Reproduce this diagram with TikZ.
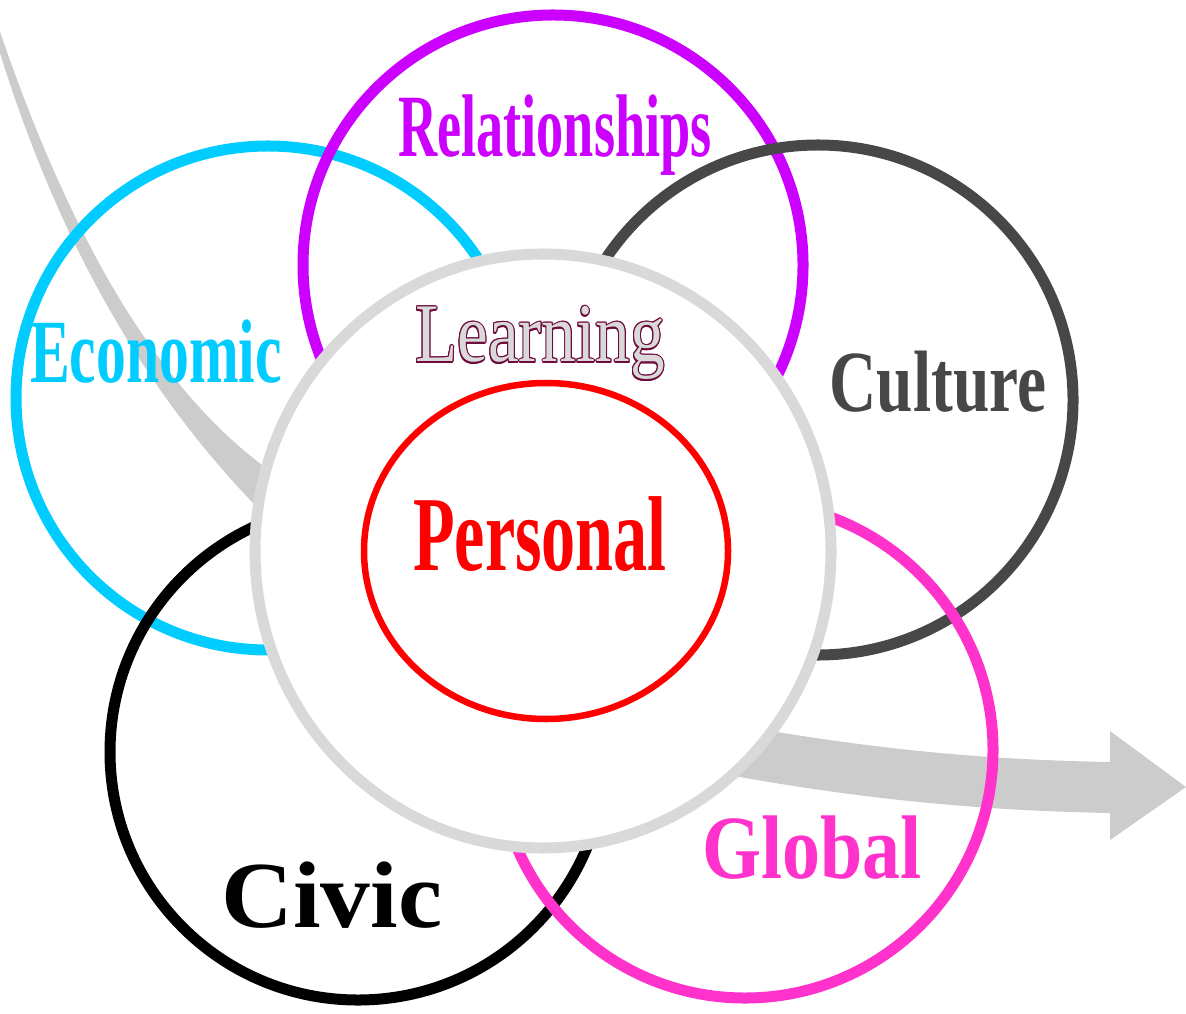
\documentclass[tikz,border=0pt]{standalone}
\usepackage{fontspec}
\setmainfont{Liberation Serif}
\definecolor{econCyan}{HTML}{00CCFF}
\definecolor{relPurple}{HTML}{CC00FF}
\definecolor{cultGrey}{HTML}{474747}
\definecolor{globPink}{HTML}{FF33CC}
\definecolor{learnGrey}{HTML}{D9D9D9}
\definecolor{learnRim}{HTML}{6E0A3C}
\definecolor{flowGrey}{HTML}{CCCCCC}

\begin{document}
\begin{tikzpicture}[x=0.01cm, y=-0.01cm,
  ring/.style={line width=0.11cm},
  word/.style={anchor=base, inner sep=0pt},
  plain/.style={font=\fontsize{#1}{#1}\selectfont},
  heavy/.style={font=\fontsize{#1}{#1}\selectfont\bfseries}]
  \useasboundingbox (0,0) rectangle (1186,1013);
  \clip (0,0) rectangle (1186,1013);
  % flow arrow, runs under the rings
  \fill[flowGrey] (-4,20) .. controls (65,225) and (150,380) .. (262,465)
    .. controls (450,640) and (620,715) .. (777,732)
    .. controls (900,752) and (1000,760) .. (1110,762)
    -- (1110,731) -- (1186,787) -- (1110,840) -- (1110,813)
    .. controls (1000,811) and (880,802) .. (740,777)
    .. controls (560,740) and (400,620) .. (253,503)
    .. controls (140,385) and (55,235) .. (-4,40) -- cycle;
  % outer rings
  \draw[ring, econCyan] (268,398) circle[radius=252];
  \draw[ring, relPurple] (553,265) circle[radius=250];
  \draw[ring, cultGrey] (818,400) circle[radius=255];
  \draw[ring, black] (358,752) circle[radius=248];
  \draw[ring, globPink] (745,750) circle[radius=248];
  % centre: learning ring with personal inside
  \draw[ring, learnGrey, fill=white] (543,551) ellipse[x radius=288, y radius=297];
  \draw[line width=0.065cm, red] (546,551) ellipse[x radius=182, y radius=168];
  % labels
  \node[word, heavy=25.3, text=relPurple, xscale=0.61] (rel) at (555,157) {Relationships};
  \node[word, heavy=25.7, text=econCyan, xscale=0.66] (econ) at (156,383) {Economic};
  \node[word, heavy=24.8, text=cultGrey, xscale=0.75] (cult) at (938,412) {Culture};
  \node[word, heavy=30.3, text=red, xscale=0.64] (pers) at (540,570) {Personal};
  \node[word, heavy=25.7, text=globPink, xscale=0.84] (glob) at (812,878) {Global};
  \node[word, heavy=26.9, text=black, xscale=1.05] (civic) at (332,927) {Civic};
  \foreach \a in {0,30,...,330}
    \node[word, plain=23.7, text=learnRim, xscale=0.83, shift={(\a:1.2)}] at (540,362) {Learning};
  \node[word, plain=23.7, text=learnGrey, xscale=0.83] (learn) at (540,362) {Learning};
\end{tikzpicture}
\end{document}
